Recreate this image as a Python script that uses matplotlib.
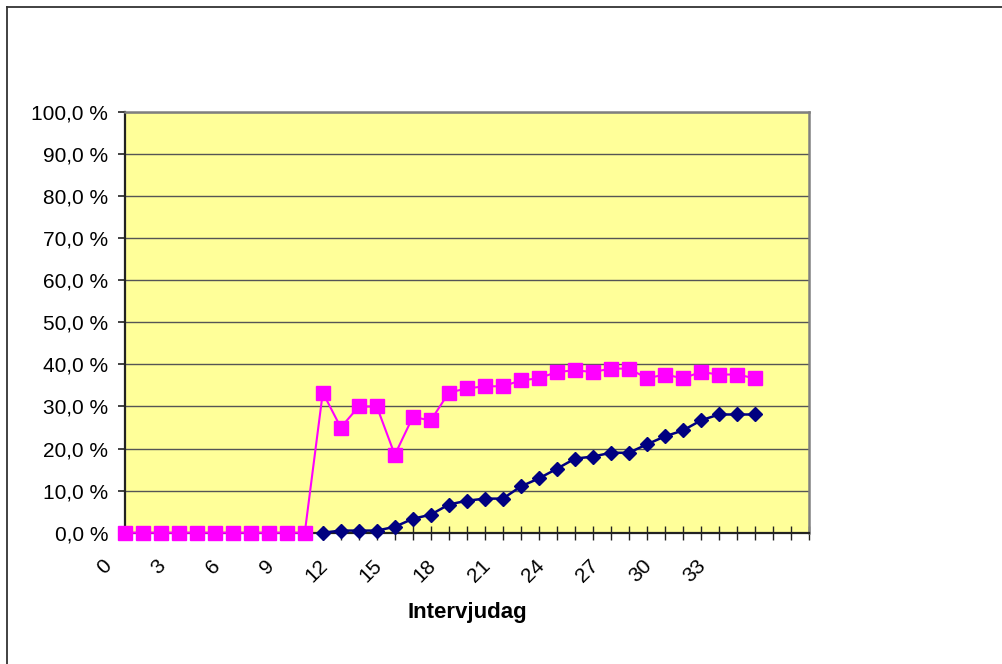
import matplotlib
matplotlib.use("Agg")
import matplotlib.pyplot as plt
from matplotlib.lines import Line2D
import matplotlib.ticker as mticker
from matplotlib.transforms import ScaledTranslation

plt.rcParams['font.family'] = ['Liberation Sans', 'DejaVu Sans']

# Categories (interview days); last three category slots are blank
categories = [str(i) for i in range(36)] + ['', '', '']

# Series values in percent
pink_values = [0, 0, 0, 0, 0, 0, 0, 0, 0, 0, 0,
               33.3, 25.0, 30.0, 30.0, 18.5, 27.5, 26.7, 33.3, 34.3, 34.8,
               34.8, 36.2, 36.7, 38.2, 38.6, 38.2, 39.0, 39.0, 36.7, 37.6,
               36.7, 38.2, 37.6, 37.6, 36.7]
navy_values = [None] * 11 + [0.0, 0.5, 0.5, 0.5, 1.4, 3.3, 4.3, 6.7, 7.6, 8.1,
                             8.1, 11.0, 12.9, 15.2, 17.6, 18.1, 19.0, 19.0, 21.0, 22.9,
                             24.3, 26.7, 28.1, 28.1, 28.1]

y_ticks = [0, 10, 20, 30, 40, 50, 60, 70, 80, 90, 100]

W, H = 1002, 664
fig = plt.figure(figsize=(W / 100, H / 100), dpi=100)
fig.patch.set_facecolor('white')

left, right, top, bottom = 124.7, 809, 112, 532.7
ax = fig.add_axes([left / W, 1 - bottom / H, (right - left) / W, (bottom - top) / H])
ax.set_facecolor('#FFFF99')

x_pink = list(range(len(pink_values)))
x_navy = [i for i, v in enumerate(navy_values) if v is not None]
y_navy = [v for v in navy_values if v is not None]

ax.plot(x_pink, pink_values, color='#FF00FF', lw=1.5, marker='s', ms=9.5,
        mec='#FF00FF', mfc='#FF00FF', zorder=3, clip_on=False)
ax.plot(x_navy, y_navy, color='#000080', lw=1.8, marker='D', ms=7.0,
        mec='#000080', mfc='#000080', zorder=4, clip_on=False)

ax.set_xlim(0, len(categories) - 1)
ax.set_ylim(0, 100)

ax.set_yticks(y_ticks)
ax.yaxis.set_major_formatter(mticker.FuncFormatter(
    lambda v, p: f"{v:.1f}".replace('.', ',') + " %"))
ax.yaxis.grid(True, color='#555555', lw=1.0)
ax.set_axisbelow(True)

ax.set_xticks(range(len(categories)))
ax.set_xticklabels([c if (i % 3 == 0) else '' for i, c in enumerate(categories)])

ax.tick_params(axis='y', direction='out', length=5, width=1.2, color='#222222',
               labelsize=15, pad=7, labelcolor='black')
ax.tick_params(axis='x', direction='inout', length=10, width=1.0, color='#222222',
               labelsize=15, pad=12, labelcolor='black')
offset = ScaledTranslation(-0.09, 0.0, fig.dpi_scale_trans)
for t in ax.xaxis.get_major_ticks():
    lab = t.label1
    lab.set_rotation(45)
    lab.set_ha('right')
    lab.set_va('top')
    lab.set_transform(lab.get_transform() + offset)

for side in ['left', 'bottom']:
    ax.spines[side].set_color('#222222')
    ax.spines[side].set_linewidth(1.6)
for side in ['top', 'right']:
    ax.spines[side].set_color('#808080')
    ax.spines[side].set_linewidth(1.8)

ax.set_xlabel('Intervjudag', fontsize=16, fontweight='bold')
ax.xaxis.set_label_coords(0.5, -0.165)
ax.xaxis.label.set_va('top')

# outer chart border (only left and top visible in the crop)
fig.add_artist(Line2D([7 / W, 7 / W], [0, 1 - 7 / H], transform=fig.transFigure,
                      color='#333333', lw=1.3))
fig.add_artist(Line2D([7 / W, 1], [1 - 7 / H, 1 - 7 / H], transform=fig.transFigure,
                      color='#333333', lw=1.3))

fig.savefig('out.png', dpi=100, facecolor='white')
